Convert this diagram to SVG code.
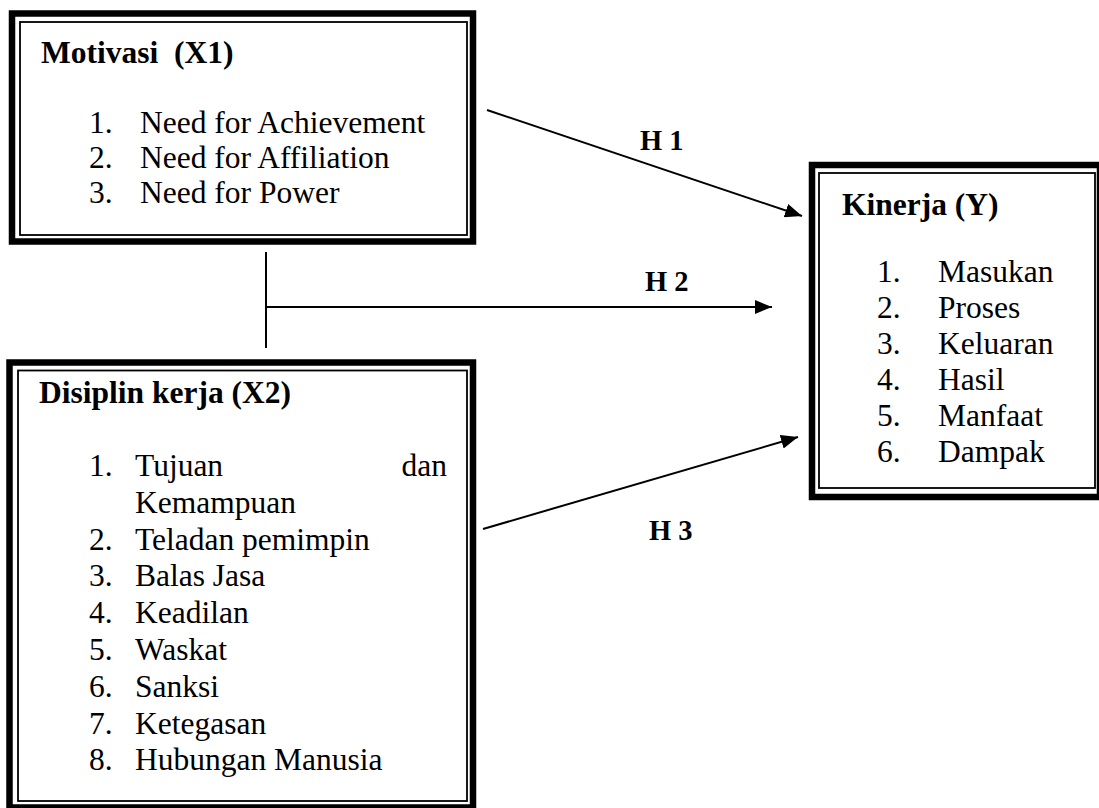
<svg xmlns="http://www.w3.org/2000/svg" width="1099" height="808" viewBox="0 0 1099 808">
<style>
.thick{fill:none;stroke:#000;stroke-width:6.5}
.thin{fill:none;stroke:#000;stroke-width:1.8}
.t{font-family:"Liberation Serif","Times New Roman",serif;font-size:31.5px;fill:#000}
.b{font-weight:bold}
.h{font-family:"Liberation Serif","Times New Roman",serif;font-size:28.5px;font-weight:bold;fill:#000}
.c{stroke:#000;stroke-width:2;fill:none}
</style>
<defs>
<marker id="ah" viewBox="0 0 17 14" refX="17" refY="7" markerWidth="17" markerHeight="14" markerUnits="userSpaceOnUse" orient="auto">
<path d="M0,0 L17,7 L0,14 Z" fill="#000"/>
</marker>
</defs>
<rect width="1099" height="808" fill="#fff"/>
<g id="motivasi">
<rect class="thick" x="12" y="13.5" width="461" height="228"/>
<rect class="thin" x="20" y="22" width="447" height="213"/>
<text class="t b" x="41" y="63">Motivasi&#160; (X1)</text>
<text class="t" x="89" y="133">1.</text><text class="t" x="140" y="133">Need for Achievement</text>
<text class="t" x="89" y="168">2.</text><text class="t" x="140" y="168">Need for Affiliation</text>
<text class="t" x="89" y="203">3.</text><text class="t" x="140" y="203">Need for Power</text>
</g>
<g id="disiplin">
<rect class="thick" x="9.5" y="362.5" width="463.5" height="445"/>
<rect class="thin" x="18" y="370.5" width="449" height="430.5"/>
<text class="t b" x="39" y="403">Disiplin kerja (X2)</text>
<text class="t" x="89" y="476">1.</text><text class="t" x="135" y="476">Tujuan</text><text class="t" x="447" y="476" text-anchor="end">dan</text>
<text class="t" x="135" y="512.8">Kemampuan</text>
<text class="t" x="89" y="549.6">2.</text><text class="t" x="135" y="549.6">Teladan pemimpin</text>
<text class="t" x="89" y="586.4">3.</text><text class="t" x="135" y="586.4">Balas Jasa</text>
<text class="t" x="89" y="623.2">4.</text><text class="t" x="135" y="623.2">Keadilan</text>
<text class="t" x="89" y="660">5.</text><text class="t" x="135" y="660">Waskat</text>
<text class="t" x="89" y="696.8">6.</text><text class="t" x="135" y="696.8">Sanksi</text>
<text class="t" x="89" y="733.6">7.</text><text class="t" x="135" y="733.6">Ketegasan</text>
<text class="t" x="89" y="770.4">8.</text><text class="t" x="135" y="770.4">Hubungan Manusia</text>
</g>
<g id="kinerja">
<rect class="thick" x="812" y="165" width="288" height="332"/>
<rect class="thin" x="819" y="173" width="276" height="315"/>
<text class="t b" x="842" y="215">Kinerja (Y)</text>
<text class="t" x="877" y="282">1.</text><text class="t" x="938" y="282">Masukan</text>
<text class="t" x="877" y="318">2.</text><text class="t" x="938" y="318">Proses</text>
<text class="t" x="877" y="354">3.</text><text class="t" x="938" y="354">Keluaran</text>
<text class="t" x="877" y="390">4.</text><text class="t" x="938" y="390">Hasil</text>
<text class="t" x="877" y="426">5.</text><text class="t" x="938" y="426">Manfaat</text>
<text class="t" x="877" y="462">6.</text><text class="t" x="938" y="462">Dampak</text>
</g>
<g id="connectors">
<line class="c" x1="487" y1="110" x2="802" y2="216" marker-end="url(#ah)"/>
<line class="c" x1="266" y1="252" x2="266" y2="348"/>
<line class="c" x1="266" y1="307" x2="772" y2="307" marker-end="url(#ah)"/>
<line class="c" x1="483" y1="529" x2="798" y2="437" marker-end="url(#ah)"/>
<text class="h" x="640" y="150">H 1</text>
<text class="h" x="645" y="291">H 2</text>
<text class="h" x="649" y="540">H 3</text>
</g>
</svg>
